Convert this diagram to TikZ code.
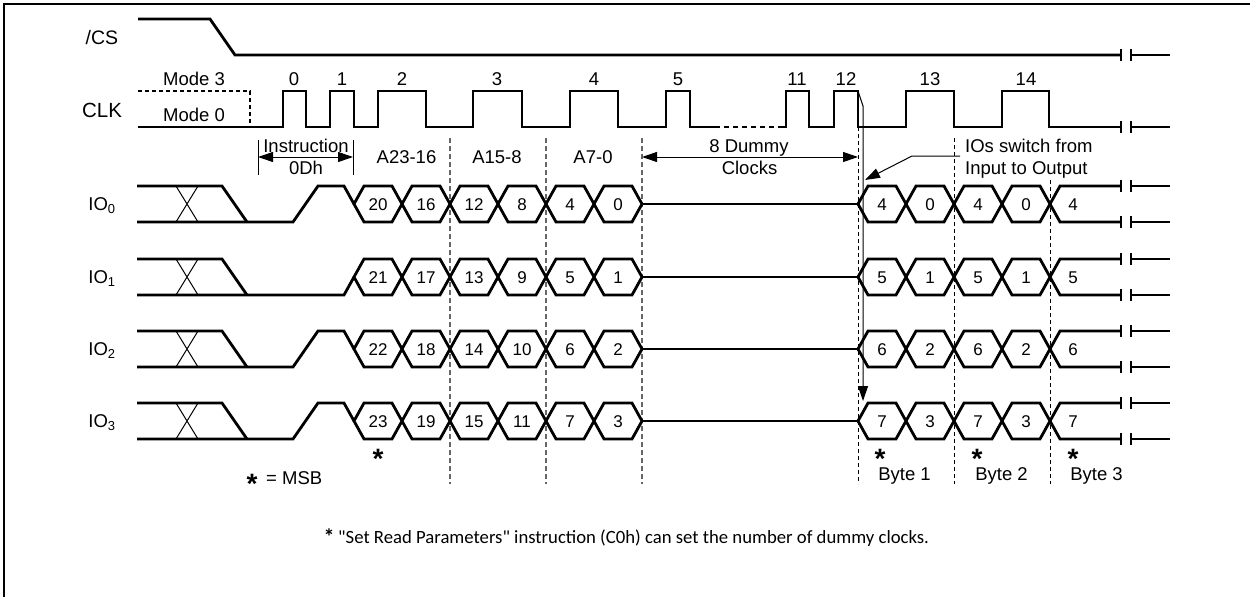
\documentclass[tikz,border=0pt]{standalone}
\usepackage{fontspec}
\setmainfont{Liberation Sans}
\newfontfamily\notefont{Carlito}
\usetikzlibrary{arrows.meta}
\tikzset{
  wave/.style={line width=2.8pt, line join=miter},
  hair/.style={line width=1pt},
  brk/.style={line width=1.2pt},
  lbl/.style={font=\fontsize{18.5}{20}\selectfont, inner sep=0pt, text height=13.2pt, text depth=0pt},
  num/.style={font=\fontsize{17}{18}\selectfont, inner sep=0pt, text height=12.2pt, text depth=0pt},
  gdash/.style={line width=1.2pt, draw=black!60, dash pattern=on 5pt off 3pt},
  bdash/.style={line width=1pt, dash pattern=on 4pt off 3pt},
  tip/.style={-{Triangle[length=15pt,width=10pt]}},
  dimarrow/.style={{Triangle[length=15pt,width=10pt]}-{Triangle[length=15pt,width=10pt]}, line width=1pt},
  starmark/.style={font=\bfseries\fontsize{28}{28}\selectfont, inner sep=0pt, text height=9.2pt, text depth=0pt},
}
\newcommand{\starglyph}{\raisebox{-10.9pt}{*}}
\begin{document}
\begin{tikzpicture}[x=1pt,y=-1pt]
\useasboundingbox (0,0) rectangle (1250,597);
% frame
\draw[line width=2pt] (3.5,597) -- (3.5,3.5) -- (1250,3.5);

% dashed guides
\foreach \x in {450,546,642}{\draw[gdash] (\x,138) -- (\x,484);}
\draw[bdash] (858,127) -- (858,484);
\draw[bdash] (954,138) -- (954,484);
\draw[bdash] (1050,180) -- (1050,484);

% left labels
\node[lbl, font=\fontsize{19.5}{20}\selectfont, text height=14pt] (cs) at (102,37) {/CS};
\node[lbl, font=\fontsize{20.5}{22}\selectfont, text height=14.7pt] (clk) at (102,110) {CLK};

% /CS
\draw[wave] (138,19) -- (210,19) -- (235,55) -- (1121,55);
\draw[wave] (1131,55) -- (1170,55);
\draw[brk] (1121,49) -- (1121,61) (1131,49) -- (1131,61);

% CLK
\draw[wave, dash pattern=on 4pt off 3pt] (138,91) -- (250,91) -- (250,127);
\draw[wave] (138,127) -- (283,127) -- (283,91) -- (306,91) -- (306,127) -- (330,127) -- (330,91) -- (354,91) -- (354,127)
  -- (378,127) -- (378,91) -- (426,91) -- (426,127) -- (473,127) -- (473,91) -- (522,91) -- (522,127)
  -- (570,127) -- (570,91) -- (618,91) -- (618,127) -- (666,127) -- (666,91) -- (690,91) -- (690,127) -- (715,127);
\draw[wave, dash pattern=on 5pt off 4pt] (715,127) -- (783,127);
\draw[wave] (783,127) -- (786,127) -- (786,91) -- (809,91) -- (809,127) -- (834,127) -- (834,91) -- (858,91) -- (858,127)
  -- (906,127) -- (906,91) -- (954,91) -- (954,127) -- (1002,127) -- (1002,91) -- (1049,91) -- (1049,127) -- (1121,127);
\draw[wave] (1131,127) -- (1170,127);
\draw[brk] (1121,121) -- (1121,133) (1131,121) -- (1131,133);

\node[lbl] (m3) at (194,79) {Mode 3};
\node[lbl] (m0) at (194,115) {Mode 0};
\foreach \n/\x in {0/294,1/342,2/402,3/497,4/594,5/678,11/797,12/846,13/930,14/1026}
  \node[lbl] (ck\n) at (\x,79) {\n};

% instruction dimension
\draw[hair] (258,140) -- (258,175) (353,140) -- (353,175);
\coordinate (insL) at (258,157);
\coordinate (insR) at (353,157);
\draw[dimarrow] (insL) -- (insR);
\node[lbl] (instr) at (306,146) {Instruction};
\node[lbl] (odh) at (306,168) {0Dh};

\node[lbl] (a2316) at (406.5,157) {A23-16};
\node[lbl] (a158) at (497,157) {A15-8};
\node[lbl] (a70) at (593,157) {A7-0};

% dummy clocks
\coordinate (dumL) at (642,157);
\coordinate (dumR) at (858,157);
\draw[dimarrow] (dumL) -- (dumR);
\node[lbl] (dum1) at (749,146) {8 Dummy};
\node[lbl] (dum2) at (749.5,168) {Clocks};

% IO switch note
\node[lbl, anchor=west] (sw1) at (965,146) {IOs switch from};
\node[lbl, anchor=west] (sw2) at (965,168) {Input to Output};
\coordinate (swA) at (960,156);
\coordinate (swB) at (912,156);
\coordinate (swT) at (865,180);
\draw[hair, tip] (swA) -- (swB) -- (swT);

% clock 12 to IO3 arrow
\coordinate (c12) at (858,91);
\coordinate (io3t) at (863,401);
\draw[hair, tip] (c12) -- (863,106) -- (io3t);

% IO rows
\foreach \ri/\yc in {0/204,1/277,2/349,3/421}{
  \pgfmathsetmacro\yt{\yc-18}
  \pgfmathsetmacro\yb{\yc+18}
  \node[lbl] (io\ri) at (102,\yc) {IO\textsubscript{\ri}};
  \draw[wave] (137,\yt) -- (222,\yt) -- (247,\yb);
  \draw[hair] (176,\yb) -- (198,\yt) (176,\yt) -- (198,\yb);
  \ifnum\ri=1
    \draw[wave] (137,\yb) -- (344,\yb) -- (354,\yc);
  \else
    \draw[wave] (137,\yb) -- (293,\yb) -- (318,\yt) -- (344,\yt) -- (354,\yc);
  \fi
  \foreach \k/\v in {0/20,1/16,2/12,3/8,4/4,5/0}{
    \pgfmathsetmacro\xa{354+48*\k}
    \pgfmathtruncatemacro\val{\v+\ri}
    \draw[wave] (\xa,\yc) -- (\xa+10,\yt) -- (\xa+38,\yt) -- (\xa+48,\yc) -- (\xa+38,\yb) -- (\xa+10,\yb) -- cycle;
    \node[num] (in\ri-\k) at (\xa+24,\yc) {\val};
  }
  \draw[wave] (642,\yc) -- (858,\yc);
  \foreach \k/\v in {0/4,1/0,2/4,3/0}{
    \pgfmathsetmacro\xa{858+48*\k}
    \pgfmathtruncatemacro\val{\v+\ri}
    \draw[wave] (\xa,\yc) -- (\xa+10,\yt) -- (\xa+38,\yt) -- (\xa+48,\yc) -- (\xa+38,\yb) -- (\xa+10,\yb) -- cycle;
    \node[num] (out\ri-\k) at (\xa+24,\yc) {\val};
  }
  \pgfmathtruncatemacro\val{4+\ri}
  \draw[wave] (1121,\yt) -- (1060,\yt) -- (1050,\yc) -- (1060,\yb) -- (1121,\yb);
  \node[num] (out\ri-4) at (1073,\yc) {\val};
  \draw[wave] (1131,\yt) -- (1170,\yt) (1131,\yb) -- (1170,\yb);
  \draw[brk] (1121,\yt-6) -- (1121,\yt+6) (1131,\yt-6) -- (1131,\yt+6)
             (1121,\yb-6) -- (1121,\yb+6) (1131,\yb-6) -- (1131,\yb+6);
}

% MSB marks
\node[starmark] (s23) at (378,453) {\starglyph};
\node[starmark] (smsb) at (252,478) {\starglyph};
\node[lbl, anchor=west] (msb) at (266,477.5) {= MSB};
\node[starmark] (sb1) at (880,452.5) {\starglyph};
\node[starmark] (sb2) at (977,452.5) {\starglyph};
\node[starmark] (sb3) at (1073,452.5) {\starglyph};
\node[lbl] (byte1) at (904.5,473.5) {Byte 1};
\node[lbl] (byte2) at (1001.5,473.5) {Byte 2};
\node[lbl] (byte3) at (1096.5,473.5) {Byte 3};

% footnote
\node[font=\notefont\bfseries\fontsize{22}{22}\selectfont, inner sep=0pt, anchor=base] (fnstar) at (329,544) {*};
\node[font=\notefont\fontsize{18.7}{20}\selectfont, inner sep=0pt, anchor=base west] (fn) at (338,543.5)
  {"Set Read Parameters" instruction (C0h) can set the number of dummy clocks.};
\end{tikzpicture}
\end{document}
